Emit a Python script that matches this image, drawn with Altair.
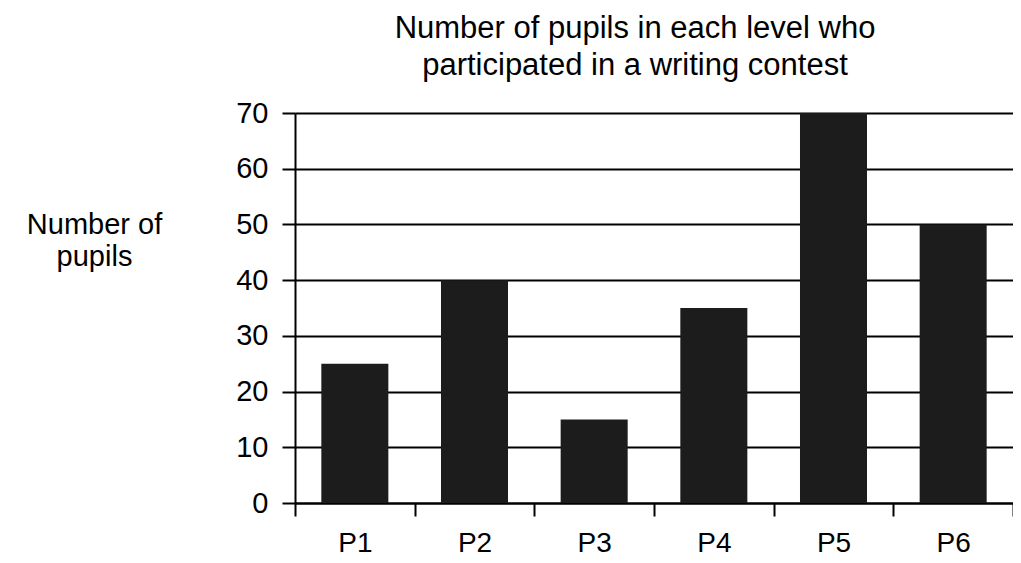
import altair as alt
import pandas as pd

levels = ["P1", "P2", "P3", "P4", "P5", "P6"]
pupils = [25, 40, 15, 35, 70, 50]
y_ticks = [0, 10, 20, 30, 40, 50, 60, 70]

df = pd.DataFrame({"Level": levels, "Pupils": pupils})

FONT = "Liberation Sans"

chart = alt.Chart(df).mark_bar(color="#1c1c1c", width=alt.RelativeBandSize(0.56)).encode(
    x=alt.X("Level:N", sort=levels,
            scale=alt.Scale(paddingInner=0, paddingOuter=0),
            axis=alt.Axis(title=None, labelAngle=0, tickBand="extent",
                          tickSize=13, tickWidth=2, tickColor="black",
                          domainColor="black", domainWidth=2,
                          labelFontSize=28, labelFont=FONT, labelColor="black",
                          labelPadding=13, grid=False)),
    y=alt.Y("Pupils:Q", scale=alt.Scale(domain=[0, 70], nice=False),
            axis=alt.Axis(values=y_ticks, title=["Number of", "pupils"],
                          titleAngle=0, titleX=-201, titleY=120,
                          titleAlign="center", titleBaseline="alphabetic",
                          titleFontSize=29, titleFont=FONT, titleFontWeight="normal",
                          titleColor="black", titleLineHeight=32,
                          labelFontSize=29, labelFont=FONT, labelColor="black",
                          tickSize=13, tickWidth=2, tickColor="black",
                          labelPadding=14,
                          domainColor="black", domainWidth=2,
                          gridColor="black", gridWidth=2, gridOpacity=1)),
).properties(
    width=718,
    height=390,
    title=alt.TitleParams(
        text=["Number of pupils in each level who", "participated in a writing contest"],
        fontSize=31, font=FONT, fontWeight="normal", color="black",
        anchor="middle", offset=17, lineHeight=37, dx=-19,
    ),
    autosize=alt.AutoSizeParams(type="none"),
    padding={"left": 287, "top": 105, "right": 0, "bottom": 55},
).configure_view(stroke=None)

chart.save("out.html", embed_options={"renderer": "svg", "actions": False})
